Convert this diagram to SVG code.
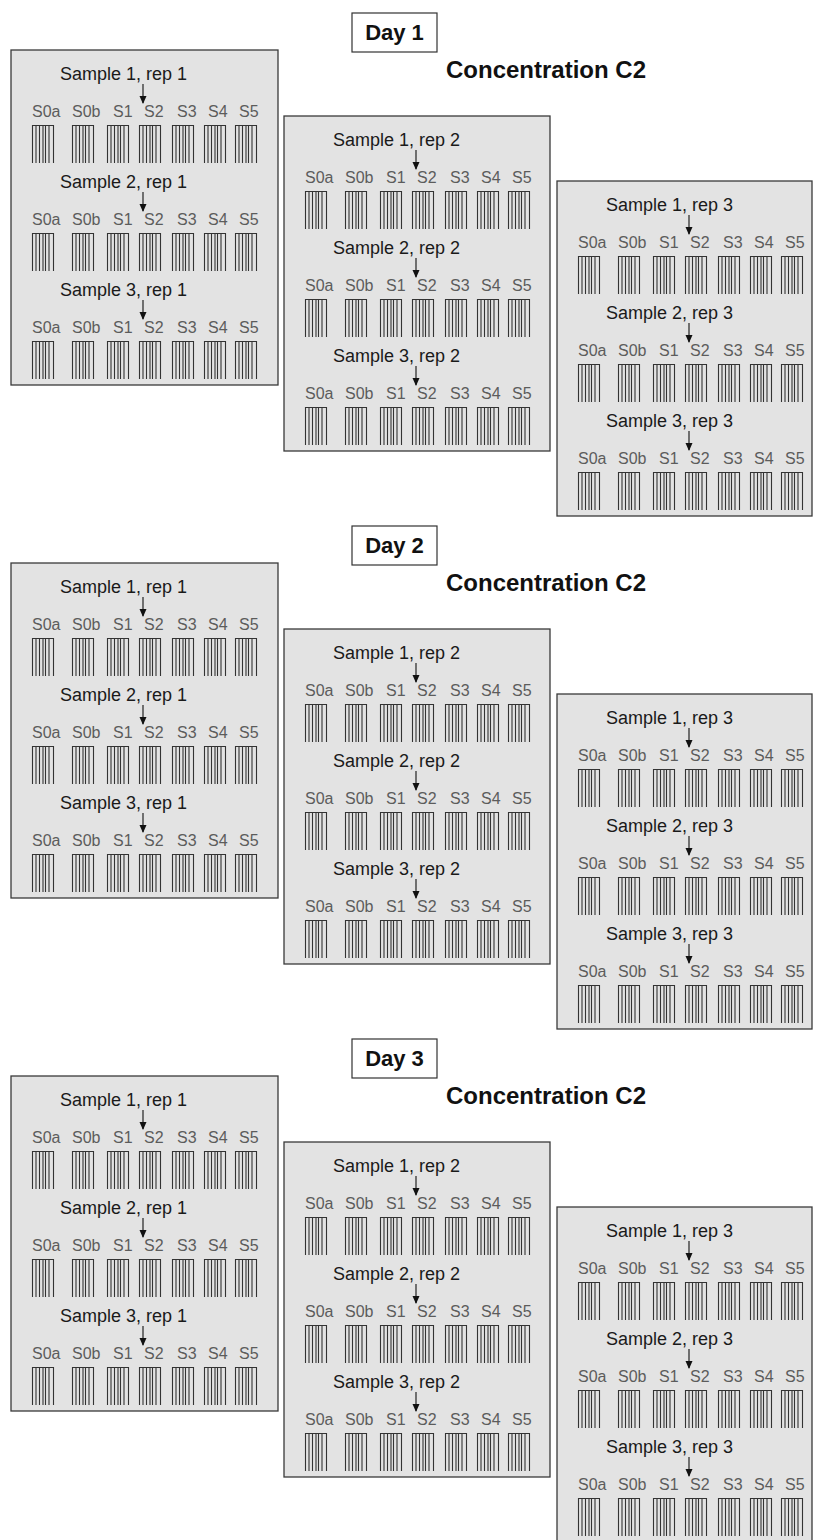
<svg xmlns="http://www.w3.org/2000/svg" xmlns:xlink="http://www.w3.org/1999/xlink" width="813" height="1540" viewBox="0 0 813 1540">
<style>
.panel{fill:#e3e3e3;stroke:#3a3a3a;stroke-width:1.3}
.daybox{fill:#fff;stroke:#333;stroke-width:1.2}
.day{font-family:"Liberation Sans",Arial,sans-serif;font-weight:bold;font-size:22px;fill:#111;text-anchor:middle}
.conc{font-family:"Liberation Sans",Arial,sans-serif;font-weight:bold;font-size:24px;fill:#111}
.smp{font-family:"Liberation Sans",Arial,sans-serif;font-size:18px;fill:#1a1a1a}
.lab{font-family:"Liberation Sans",Arial,sans-serif;font-size:16px;fill:#5c5c5c}
.bar{fill:none;stroke:#333;stroke-width:1.1}
.arr{stroke:#222;stroke-width:1.2;fill:none;marker-end:url(#ah)}
</style>
<defs>
<marker id="ah" viewBox="0 0 8 8" refX="7" refY="4" markerUnits="userSpaceOnUse" markerWidth="8" markerHeight="8" orient="auto">
<path d="M0,0.5 L8,4 L0,7.5 Z" fill="#111"/>
</marker>
<path id="bc" class="bar" d="M0,0.5H22M0.5,0V38M4,0V38M7.5,0V38M11,0V38M13.5,0V38M17,0V38M21.5,0V38"/>
<g id="bars">
<use href="#bc" x="21"/><use href="#bc" x="61"/><use href="#bc" x="96"/><use href="#bc" x="128"/><use href="#bc" x="161"/><use href="#bc" x="193"/><use href="#bc" x="224"/>
</g>
</defs>
<rect width="813" height="1540" fill="#fff"/>

<!-- Day 1 -->
<g id="day1-label"><rect class="daybox" x="352" y="13" width="85" height="39"/><text class="day" x="394.5" y="40">Day 1</text></g>
<g id="day1-conc"><text class="conc" x="446" y="78">Concentration C2</text></g>
<g id="d1-rep1" transform="translate(11,50)">
<rect class="panel" x="0" y="0" width="267" height="335"/>
<text class="smp" x="49" y="30">Sample 1, rep 1</text>
<text class="lab" y="67"><tspan x="21">S0a</tspan><tspan x="61">S0b</tspan><tspan x="102">S1</tspan><tspan x="133">S2</tspan><tspan x="166">S3</tspan><tspan x="197">S4</tspan><tspan x="228">S5</tspan></text>
<use href="#bars" y="75"/>
<text class="smp" x="49" y="138">Sample 2, rep 1</text>
<text class="lab" y="175"><tspan x="21">S0a</tspan><tspan x="61">S0b</tspan><tspan x="102">S1</tspan><tspan x="133">S2</tspan><tspan x="166">S3</tspan><tspan x="197">S4</tspan><tspan x="228">S5</tspan></text>
<use href="#bars" y="183"/>
<text class="smp" x="49" y="246">Sample 3, rep 1</text>
<text class="lab" y="283"><tspan x="21">S0a</tspan><tspan x="61">S0b</tspan><tspan x="102">S1</tspan><tspan x="133">S2</tspan><tspan x="166">S3</tspan><tspan x="197">S4</tspan><tspan x="228">S5</tspan></text>
<use href="#bars" y="291"/>
</g>
<g id="d1-rep2" transform="translate(284,116)">
<rect class="panel" x="0" y="0" width="266" height="335"/>
<text class="smp" x="49" y="30">Sample 1, rep 2</text>
<text class="lab" y="67"><tspan x="21">S0a</tspan><tspan x="61">S0b</tspan><tspan x="102">S1</tspan><tspan x="133">S2</tspan><tspan x="166">S3</tspan><tspan x="197">S4</tspan><tspan x="228">S5</tspan></text>
<use href="#bars" y="75"/>
<text class="smp" x="49" y="138">Sample 2, rep 2</text>
<text class="lab" y="175"><tspan x="21">S0a</tspan><tspan x="61">S0b</tspan><tspan x="102">S1</tspan><tspan x="133">S2</tspan><tspan x="166">S3</tspan><tspan x="197">S4</tspan><tspan x="228">S5</tspan></text>
<use href="#bars" y="183"/>
<text class="smp" x="49" y="246">Sample 3, rep 2</text>
<text class="lab" y="283"><tspan x="21">S0a</tspan><tspan x="61">S0b</tspan><tspan x="102">S1</tspan><tspan x="133">S2</tspan><tspan x="166">S3</tspan><tspan x="197">S4</tspan><tspan x="228">S5</tspan></text>
<use href="#bars" y="291"/>
</g>
<g id="d1-rep3" transform="translate(557,181)">
<rect class="panel" x="0" y="0" width="255" height="335"/>
<text class="smp" x="49" y="30">Sample 1, rep 3</text>
<text class="lab" y="67"><tspan x="21">S0a</tspan><tspan x="61">S0b</tspan><tspan x="102">S1</tspan><tspan x="133">S2</tspan><tspan x="166">S3</tspan><tspan x="197">S4</tspan><tspan x="228">S5</tspan></text>
<use href="#bars" y="75"/>
<text class="smp" x="49" y="138">Sample 2, rep 3</text>
<text class="lab" y="175"><tspan x="21">S0a</tspan><tspan x="61">S0b</tspan><tspan x="102">S1</tspan><tspan x="133">S2</tspan><tspan x="166">S3</tspan><tspan x="197">S4</tspan><tspan x="228">S5</tspan></text>
<use href="#bars" y="183"/>
<text class="smp" x="49" y="246">Sample 3, rep 3</text>
<text class="lab" y="283"><tspan x="21">S0a</tspan><tspan x="61">S0b</tspan><tspan x="102">S1</tspan><tspan x="133">S2</tspan><tspan x="166">S3</tspan><tspan x="197">S4</tspan><tspan x="228">S5</tspan></text>
<use href="#bars" y="291"/>
</g>

<!-- Day 2 -->
<g id="day2-label"><rect class="daybox" x="352" y="526" width="85" height="39"/><text class="day" x="394.5" y="553">Day 2</text></g>
<g id="day2-conc"><text class="conc" x="446" y="591">Concentration C2</text></g>
<g id="d2-rep1" transform="translate(11,563)">
<rect class="panel" x="0" y="0" width="267" height="335"/>
<text class="smp" x="49" y="30">Sample 1, rep 1</text>
<text class="lab" y="67"><tspan x="21">S0a</tspan><tspan x="61">S0b</tspan><tspan x="102">S1</tspan><tspan x="133">S2</tspan><tspan x="166">S3</tspan><tspan x="197">S4</tspan><tspan x="228">S5</tspan></text>
<use href="#bars" y="75"/>
<text class="smp" x="49" y="138">Sample 2, rep 1</text>
<text class="lab" y="175"><tspan x="21">S0a</tspan><tspan x="61">S0b</tspan><tspan x="102">S1</tspan><tspan x="133">S2</tspan><tspan x="166">S3</tspan><tspan x="197">S4</tspan><tspan x="228">S5</tspan></text>
<use href="#bars" y="183"/>
<text class="smp" x="49" y="246">Sample 3, rep 1</text>
<text class="lab" y="283"><tspan x="21">S0a</tspan><tspan x="61">S0b</tspan><tspan x="102">S1</tspan><tspan x="133">S2</tspan><tspan x="166">S3</tspan><tspan x="197">S4</tspan><tspan x="228">S5</tspan></text>
<use href="#bars" y="291"/>
</g>
<g id="d2-rep2" transform="translate(284,629)">
<rect class="panel" x="0" y="0" width="266" height="335"/>
<text class="smp" x="49" y="30">Sample 1, rep 2</text>
<text class="lab" y="67"><tspan x="21">S0a</tspan><tspan x="61">S0b</tspan><tspan x="102">S1</tspan><tspan x="133">S2</tspan><tspan x="166">S3</tspan><tspan x="197">S4</tspan><tspan x="228">S5</tspan></text>
<use href="#bars" y="75"/>
<text class="smp" x="49" y="138">Sample 2, rep 2</text>
<text class="lab" y="175"><tspan x="21">S0a</tspan><tspan x="61">S0b</tspan><tspan x="102">S1</tspan><tspan x="133">S2</tspan><tspan x="166">S3</tspan><tspan x="197">S4</tspan><tspan x="228">S5</tspan></text>
<use href="#bars" y="183"/>
<text class="smp" x="49" y="246">Sample 3, rep 2</text>
<text class="lab" y="283"><tspan x="21">S0a</tspan><tspan x="61">S0b</tspan><tspan x="102">S1</tspan><tspan x="133">S2</tspan><tspan x="166">S3</tspan><tspan x="197">S4</tspan><tspan x="228">S5</tspan></text>
<use href="#bars" y="291"/>
</g>
<g id="d2-rep3" transform="translate(557,694)">
<rect class="panel" x="0" y="0" width="255" height="335"/>
<text class="smp" x="49" y="30">Sample 1, rep 3</text>
<text class="lab" y="67"><tspan x="21">S0a</tspan><tspan x="61">S0b</tspan><tspan x="102">S1</tspan><tspan x="133">S2</tspan><tspan x="166">S3</tspan><tspan x="197">S4</tspan><tspan x="228">S5</tspan></text>
<use href="#bars" y="75"/>
<text class="smp" x="49" y="138">Sample 2, rep 3</text>
<text class="lab" y="175"><tspan x="21">S0a</tspan><tspan x="61">S0b</tspan><tspan x="102">S1</tspan><tspan x="133">S2</tspan><tspan x="166">S3</tspan><tspan x="197">S4</tspan><tspan x="228">S5</tspan></text>
<use href="#bars" y="183"/>
<text class="smp" x="49" y="246">Sample 3, rep 3</text>
<text class="lab" y="283"><tspan x="21">S0a</tspan><tspan x="61">S0b</tspan><tspan x="102">S1</tspan><tspan x="133">S2</tspan><tspan x="166">S3</tspan><tspan x="197">S4</tspan><tspan x="228">S5</tspan></text>
<use href="#bars" y="291"/>
</g>

<!-- Day 3 -->
<g id="day3-label"><rect class="daybox" x="352" y="1039" width="85" height="39"/><text class="day" x="394.5" y="1066">Day 3</text></g>
<g id="day3-conc"><text class="conc" x="446" y="1104">Concentration C2</text></g>
<g id="d3-rep1" transform="translate(11,1076)">
<rect class="panel" x="0" y="0" width="267" height="335"/>
<text class="smp" x="49" y="30">Sample 1, rep 1</text>
<text class="lab" y="67"><tspan x="21">S0a</tspan><tspan x="61">S0b</tspan><tspan x="102">S1</tspan><tspan x="133">S2</tspan><tspan x="166">S3</tspan><tspan x="197">S4</tspan><tspan x="228">S5</tspan></text>
<use href="#bars" y="75"/>
<text class="smp" x="49" y="138">Sample 2, rep 1</text>
<text class="lab" y="175"><tspan x="21">S0a</tspan><tspan x="61">S0b</tspan><tspan x="102">S1</tspan><tspan x="133">S2</tspan><tspan x="166">S3</tspan><tspan x="197">S4</tspan><tspan x="228">S5</tspan></text>
<use href="#bars" y="183"/>
<text class="smp" x="49" y="246">Sample 3, rep 1</text>
<text class="lab" y="283"><tspan x="21">S0a</tspan><tspan x="61">S0b</tspan><tspan x="102">S1</tspan><tspan x="133">S2</tspan><tspan x="166">S3</tspan><tspan x="197">S4</tspan><tspan x="228">S5</tspan></text>
<use href="#bars" y="291"/>
</g>
<g id="d3-rep2" transform="translate(284,1142)">
<rect class="panel" x="0" y="0" width="266" height="335"/>
<text class="smp" x="49" y="30">Sample 1, rep 2</text>
<text class="lab" y="67"><tspan x="21">S0a</tspan><tspan x="61">S0b</tspan><tspan x="102">S1</tspan><tspan x="133">S2</tspan><tspan x="166">S3</tspan><tspan x="197">S4</tspan><tspan x="228">S5</tspan></text>
<use href="#bars" y="75"/>
<text class="smp" x="49" y="138">Sample 2, rep 2</text>
<text class="lab" y="175"><tspan x="21">S0a</tspan><tspan x="61">S0b</tspan><tspan x="102">S1</tspan><tspan x="133">S2</tspan><tspan x="166">S3</tspan><tspan x="197">S4</tspan><tspan x="228">S5</tspan></text>
<use href="#bars" y="183"/>
<text class="smp" x="49" y="246">Sample 3, rep 2</text>
<text class="lab" y="283"><tspan x="21">S0a</tspan><tspan x="61">S0b</tspan><tspan x="102">S1</tspan><tspan x="133">S2</tspan><tspan x="166">S3</tspan><tspan x="197">S4</tspan><tspan x="228">S5</tspan></text>
<use href="#bars" y="291"/>
</g>
<g id="d3-rep3" transform="translate(557,1207)">
<rect class="panel" x="0" y="0" width="255" height="335"/>
<text class="smp" x="49" y="30">Sample 1, rep 3</text>
<text class="lab" y="67"><tspan x="21">S0a</tspan><tspan x="61">S0b</tspan><tspan x="102">S1</tspan><tspan x="133">S2</tspan><tspan x="166">S3</tspan><tspan x="197">S4</tspan><tspan x="228">S5</tspan></text>
<use href="#bars" y="75"/>
<text class="smp" x="49" y="138">Sample 2, rep 3</text>
<text class="lab" y="175"><tspan x="21">S0a</tspan><tspan x="61">S0b</tspan><tspan x="102">S1</tspan><tspan x="133">S2</tspan><tspan x="166">S3</tspan><tspan x="197">S4</tspan><tspan x="228">S5</tspan></text>
<use href="#bars" y="183"/>
<text class="smp" x="49" y="246">Sample 3, rep 3</text>
<text class="lab" y="283"><tspan x="21">S0a</tspan><tspan x="61">S0b</tspan><tspan x="102">S1</tspan><tspan x="133">S2</tspan><tspan x="166">S3</tspan><tspan x="197">S4</tspan><tspan x="228">S5</tspan></text>
<use href="#bars" y="291"/>
</g>

<g id="connectors">
<line class="arr" x1="143" y1="84" x2="143" y2="103"/>
<line class="arr" x1="143" y1="192" x2="143" y2="211"/>
<line class="arr" x1="143" y1="300" x2="143" y2="319"/>
<line class="arr" x1="416" y1="150" x2="416" y2="169"/>
<line class="arr" x1="416" y1="258" x2="416" y2="277"/>
<line class="arr" x1="416" y1="366" x2="416" y2="385"/>
<line class="arr" x1="689" y1="215" x2="689" y2="234"/>
<line class="arr" x1="689" y1="323" x2="689" y2="342"/>
<line class="arr" x1="689" y1="431" x2="689" y2="450"/>
<line class="arr" x1="143" y1="597" x2="143" y2="616"/>
<line class="arr" x1="143" y1="705" x2="143" y2="724"/>
<line class="arr" x1="143" y1="813" x2="143" y2="832"/>
<line class="arr" x1="416" y1="663" x2="416" y2="682"/>
<line class="arr" x1="416" y1="771" x2="416" y2="790"/>
<line class="arr" x1="416" y1="879" x2="416" y2="898"/>
<line class="arr" x1="689" y1="728" x2="689" y2="747"/>
<line class="arr" x1="689" y1="836" x2="689" y2="855"/>
<line class="arr" x1="689" y1="944" x2="689" y2="963"/>
<line class="arr" x1="143" y1="1110" x2="143" y2="1129"/>
<line class="arr" x1="143" y1="1218" x2="143" y2="1237"/>
<line class="arr" x1="143" y1="1326" x2="143" y2="1345"/>
<line class="arr" x1="416" y1="1176" x2="416" y2="1195"/>
<line class="arr" x1="416" y1="1284" x2="416" y2="1303"/>
<line class="arr" x1="416" y1="1392" x2="416" y2="1411"/>
<line class="arr" x1="689" y1="1241" x2="689" y2="1260"/>
<line class="arr" x1="689" y1="1349" x2="689" y2="1368"/>
<line class="arr" x1="689" y1="1457" x2="689" y2="1476"/>
</g>
</svg>
